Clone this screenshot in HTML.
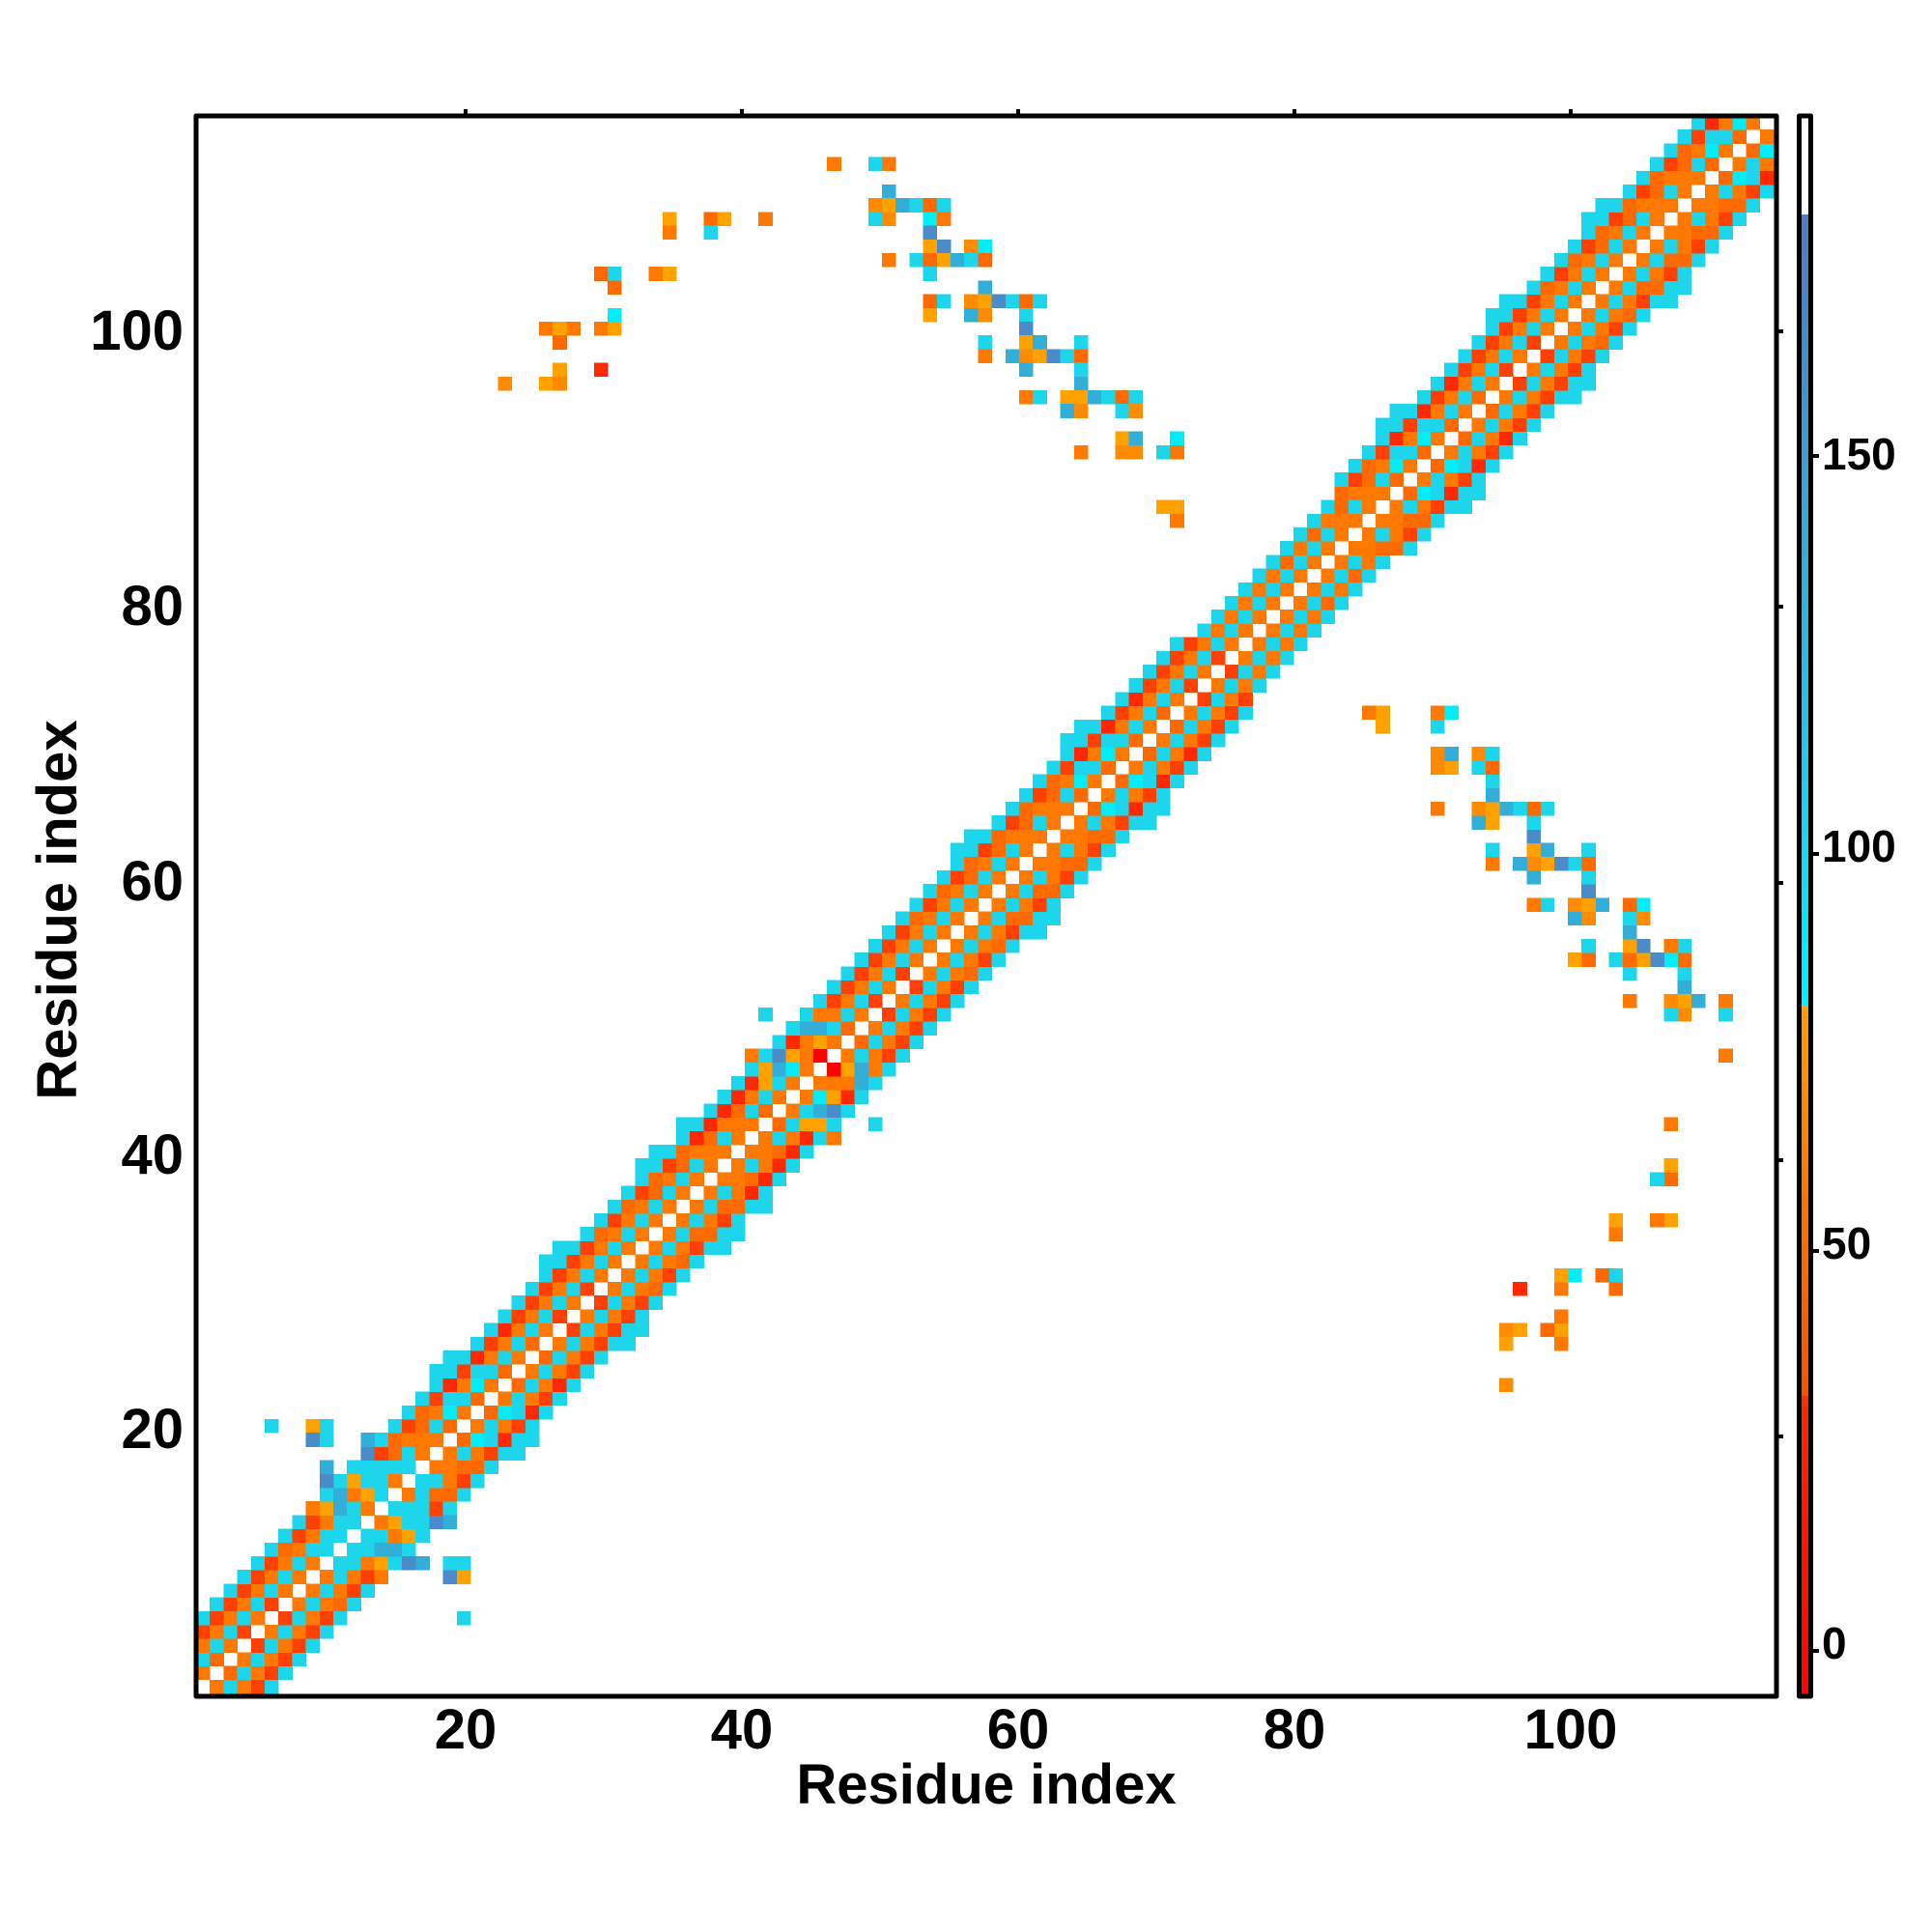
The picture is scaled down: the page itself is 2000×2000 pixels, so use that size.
<!DOCTYPE html>
<html><head><meta charset="utf-8"><style>
html,body{margin:0;padding:0;background:#fff;}
svg{display:block;}
text{font-family:"Liberation Sans",Arial,sans-serif;font-weight:bold;fill:#000;}
</style></head><body>
<svg id="s" width="2000" height="2000" viewBox="0 0 2000 2000" xmlns="http://www.w3.org/2000/svg">
<defs>
<clipPath id="cp"><rect x="203" y="120" width="1636" height="1636"/></clipPath>
<linearGradient id="cb" x1="0" y1="1" x2="0" y2="0">
<stop offset="0" stop-color="#ff0000"/>
<stop offset="0.12" stop-color="#ff1a00"/>
<stop offset="0.19" stop-color="#ff2c00"/>
<stop offset="0.19" stop-color="#ff5000"/>
<stop offset="0.25" stop-color="#ff6000"/>
<stop offset="0.31" stop-color="#ff7200"/>
<stop offset="0.37" stop-color="#ff8800"/>
<stop offset="0.43" stop-color="#ff9a00"/>
<stop offset="0.437" stop-color="#ffa200"/>
<stop offset="0.437" stop-color="#00f0ff"/>
<stop offset="0.5" stop-color="#10e0f0"/>
<stop offset="0.6" stop-color="#22c8e6"/>
<stop offset="0.75" stop-color="#3aa6d4"/>
<stop offset="0.9" stop-color="#4a82c4"/>
<stop offset="0.9375" stop-color="#4a7ec0"/>
<stop offset="0.9375" stop-color="#ffffff"/>
<stop offset="1" stop-color="#ffffff"/>
</linearGradient>
</defs>
<g id="cells" clip-path="url(#cp)" shape-rendering="crispEdges"></g>
<rect x="203" y="120" width="1636" height="1636" fill="none" stroke="#000" stroke-width="5" stroke-linejoin="round"/>
<g stroke="#000" stroke-width="4">
<line x1="482" y1="113" x2="482" y2="120"/><line x1="768" y1="113" x2="768" y2="120"/><line x1="1054" y1="113" x2="1054" y2="120"/><line x1="1340" y1="113" x2="1340" y2="120"/><line x1="1626" y1="113" x2="1626" y2="120"/>
<line x1="1839" y1="343" x2="1846" y2="343"/><line x1="1839" y1="628" x2="1846" y2="628"/><line x1="1839" y1="914" x2="1846" y2="914"/><line x1="1839" y1="1201" x2="1846" y2="1201"/><line x1="1839" y1="1487" x2="1846" y2="1487"/>
<line x1="1877" y1="1709" x2="1883" y2="1709"/><line x1="1877" y1="1295" x2="1883" y2="1295"/><line x1="1877" y1="884" x2="1883" y2="884"/><line x1="1877" y1="472" x2="1883" y2="472"/>
</g>
<rect x="1862.5" y="120" width="12" height="1636" fill="url(#cb)" stroke="#000" stroke-width="5" stroke-linejoin="round"/>
<g font-size="58" text-anchor="middle">
<text x="482" y="1810">20</text><text x="768" y="1810">40</text><text x="1054" y="1810">60</text><text x="1340" y="1810">80</text><text x="1626" y="1810">100</text>
</g>
<g font-size="58" text-anchor="end">
<text x="190" y="362">100</text><text x="190" y="647">80</text><text x="190" y="932">60</text><text x="190" y="1215">40</text><text x="190" y="1499">20</text>
</g>
<text x="1021" y="1867" font-size="58" text-anchor="middle">Residue index</text>
<text transform="translate(79,942) rotate(-90)" font-size="58" text-anchor="middle">Residue index</text>
<g font-size="46">
<text x="1886" y="1717">0</text><text x="1886" y="1303">50</text><text x="1886" y="892">100</text><text x="1886" y="486">150</text>
</g>
</svg>
<script>
(function(){
var N=115,X0=203,Y0=120,CS=14.2;
var P={O:'#ff7800',O2:'#ff6a00',Yo:'#ff8c00',Y:'#ffa200',R:'#ff4000',R2:'#ff2800',Rb:'#ff0000',C:'#1ed6ec',Cb:'#00eefa',B:'#33aed8',S:'#4a8cc8'};
var M={};
function set(i,j,c){M[i+','+j]=c;M[j+','+i]=c;}
function hs(a,b,d){var x=(a*73+b*31+d*17)%23;return x;}
function wid(m,a,b){
 var h=hs(a,b,5)%4;
 if(m<20)return 5;
 if(m<45)return h===0?6:5;
 if(m<55)return 5;
 if(m<75)return h===0?6:5;
 if(m<86)return 4;
 return h===0?6:5;
}
for(var a=1;a<=N;a++){for(var b=a+1;b<=N;b++){
 var d=b-a,m=(a+b)/2,w=wid(m,a,b);
 if(d>w)continue;
 var h=hs(a,b,d),c;
 if(d===1)c=h<4?'O2':(h<6?'R':'O');
 else if(d===2)c=h<2?'O':(h<4?'Cb':'C');
 else if(d===3)c=h<4?'O2':(h<6?'C':'O');
 else if(d===4)c=h<6?'O2':(h<9?'R2':'R');
 else c='C';
 if(m>=76&&m<86&&d===4)c='C';
 set(a,b,c);
}}
var L=[
[47,112,'O'],[50,112,'C'],[51,112,'O'],
[35,108,'Y'],[35,107,'O'],[38,108,'O2'],[39,108,'Y'],[38,107,'C'],[42,108,'O'],
[30,104,'O2'],[31,104,'C'],[31,103,'O2'],[34,104,'O'],[35,104,'Y'],
[31,101,'Cb'],[30,100,'O'],[31,100,'Y'],[26,100,'O'],[27,100,'Y'],[28,100,'O'],[27,99,'O2'],
[27,97,'Y'],[30,97,'R2'],[23,96,'Yo'],[26,96,'Y'],[27,96,'Yo'],
[51,110,'B'],[50,109,'Yo'],[51,109,'Y'],[52,109,'B'],[53,109,'C'],[54,109,'O2'],[55,109,'C'],
[50,108,'C'],[51,108,'Yo'],[54,108,'Cb'],[55,108,'O'],[54,107,'S'],
[54,106,'Y'],[55,106,'S'],[57,106,'Yo'],[58,106,'Cb'],
[51,105,'O'],[53,105,'C'],[54,105,'O2'],[55,105,'Y'],[56,105,'B'],[57,105,'C'],[58,105,'O2'],[54,104,'C'],
[58,103,'B'],[54,102,'O2'],[55,102,'C'],[57,102,'Yo'],[58,102,'Y'],[59,102,'S'],[60,102,'C'],[61,102,'O2'],[62,102,'C'],
[54,101,'Y'],[57,101,'B'],[58,101,'Yo'],[61,101,'C'],[61,100,'S'],
[58,99,'C'],[61,99,'Y'],[62,99,'B'],[65,99,'C'],
[58,98,'O'],[60,98,'B'],[61,98,'Yo'],[62,98,'Y'],[63,98,'S'],[64,98,'C'],[65,98,'O2'],
[61,97,'B'],[65,97,'C'],[65,96,'B'],
[61,95,'O'],[62,95,'C'],[64,95,'Y'],[65,95,'Y'],[66,95,'B'],[67,95,'C'],[68,95,'O2'],[69,95,'C'],
[64,94,'B'],[65,94,'Yo'],[68,94,'C'],[69,94,'Yo'],
[68,92,'Y'],[69,92,'B'],[72,92,'Cb'],[65,91,'O'],[68,91,'Yo'],[69,91,'Yo'],[71,91,'C'],[72,91,'O'],
[71,87,'Y'],[72,87,'Y'],[72,86,'O'],
[6,20,'C'],[9,20,'Y'],[10,20,'C'],[9,19,'S'],[10,19,'C'],[13,19,'B'],[13,18,'S'],[10,17,'B'],
[10,16,'S'],[12,16,'Y'],[13,16,'C'],[14,16,'C'],[13,17,'C'],[14,17,'C'],[15,17,'C'],[16,17,'C'],
[10,15,'C'],[11,15,'C'],[12,15,'O'],[13,15,'Y'],[14,15,'C'],
[9,14,'O'],[10,14,'Yo'],[11,14,'B'],[12,14,'C'],[15,14,'C'],[16,14,'C'],[17,14,'C'],
[13,17,'C'],[15,13,'Y'],[16,13,'C'],[17,13,'C'],[18,13,'S'],[19,13,'B'],
[13,12,'C'],[14,12,'C'],[15,12,'O'],[16,12,'Y'],[12,11,'C'],[13,11,'C'],[14,11,'B'],[15,11,'B'],
[11,10,'C'],[12,10,'C'],[13,10,'O'],[14,10,'Y'],[15,10,'C'],[16,10,'S'],[17,10,'B'],[19,10,'C'],[20,10,'C'],
[19,9,'S'],[20,9,'Y'],[13,9,'R'],[14,9,'O'],[20,6,'C'],
[42,50,'C'],[45,50,'C'],[46,50,'O'],[45,49,'B'],[46,49,'B'],[47,49,'C'],[45,48,'O2'],[46,48,'Y'],
[41,47,'O'],[42,47,'C'],[43,47,'S'],[44,47,'Y'],[45,47,'O'],[46,47,'Rb'],
[42,46,'Y'],[43,46,'B'],[44,46,'Cb'],[45,46,'O'],[40,45,'C'],[41,45,'R2'],[42,45,'Y'],[43,45,'C'],[44,45,'O'],
[39,44,'C'],[40,44,'R2'],[41,44,'O'],[42,44,'C'],[43,44,'O'],
[38,43,'C'],[39,43,'R2'],[36,42,'C'],[37,42,'C'],[38,42,'R2'],[36,41,'C'],[37,41,'R2'],
[45,44,'O'],[46,44,'Cb'],[47,44,'Y'],[46,43,'B'],[47,43,'S'],[45,42,'Y'],[46,42,'Y'],[47,42,'C'],[50,42,'C'],[45,41,'R2'],[47,41,'O'],
[48,46,'Y'],[49,46,'B'],[47,45,'O'],[48,45,'O'],[49,45,'B'],[50,45,'C']
];
L.forEach(function(t){set(t[0],t[1],t[2]);});
for(var i=1;i<=N;i++)delete M[i+','+i];
var s='';
for(var k in M){var p=k.split(','),ci=+p[0],ri=+p[1];
 var x=X0+(ci-1)*CS,y=Y0+(N-ri)*CS;
 s+='<rect x="'+x.toFixed(1)+'" y="'+y.toFixed(1)+'" width="14.6" height="14.6" fill="'+P[M[k]]+'"/>';}
document.getElementById('cells').innerHTML=s;
})();
</script>
</body></html>
